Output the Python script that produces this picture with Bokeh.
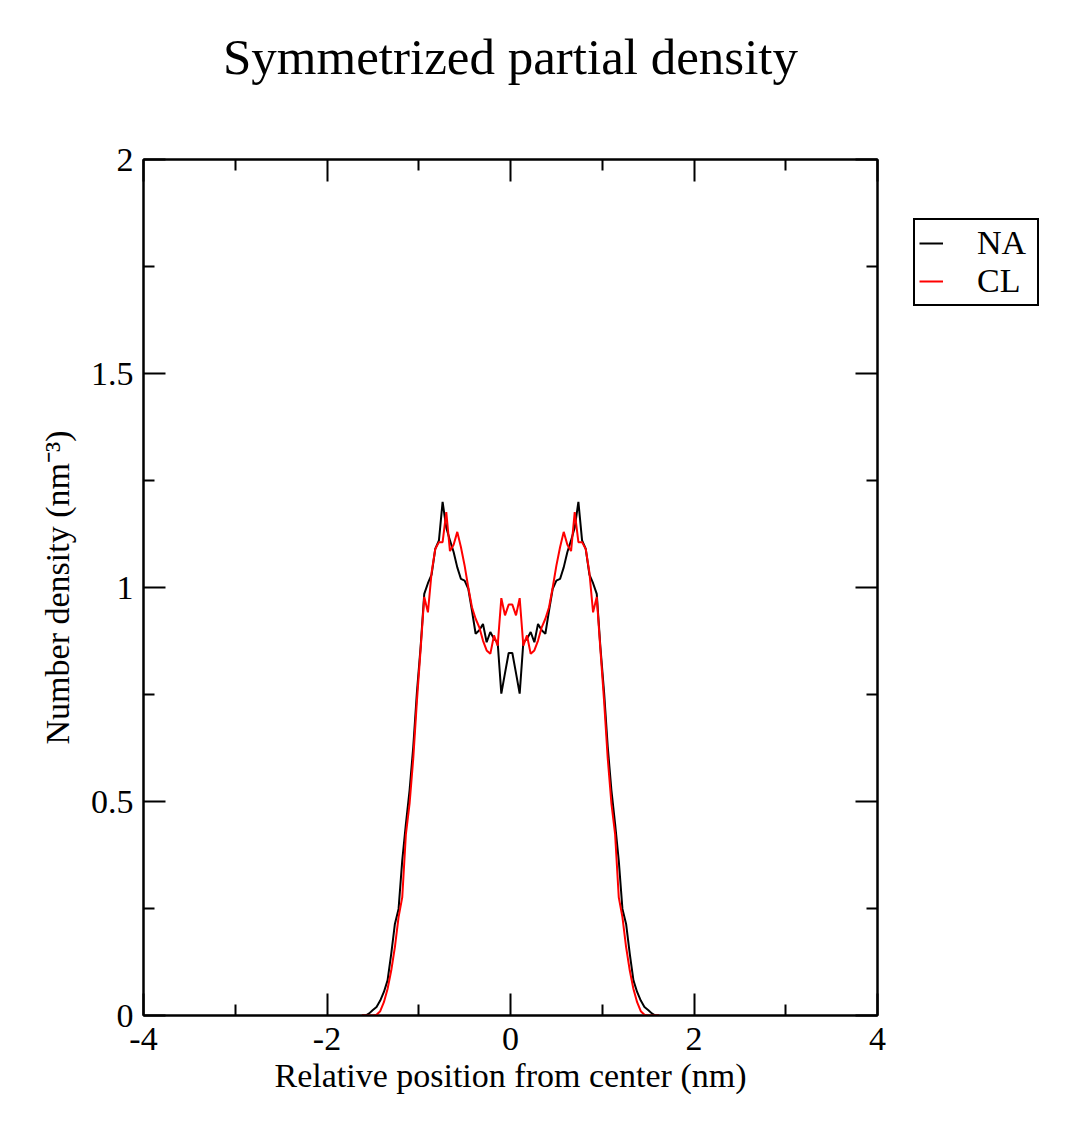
from bokeh.plotting import figure
from bokeh.models import (ColumnDataSource, Legend, LegendItem, LinearAxis, FixedTicker,
                          CustomJSTickFormatter, Title, Range1d)
from bokeh.embed import file_html
from bokeh.resources import INLINE

# ---- data ----
x_nm = [-1.62, -1.58, -1.54, -1.50, -1.46, -1.42, -1.38, -1.34, -1.30, -1.26, -1.22,
        -1.18, -1.14, -1.10, -1.06, -1.02, -0.98, -0.94, -0.90, -0.86, -0.82, -0.78,
        -0.74, -0.70, -0.66, -0.62, -0.58, -0.54, -0.50, -0.46, -0.42, -0.38, -0.34,
        -0.30, -0.26, -0.22, -0.18, -0.14, -0.10, -0.06, -0.02,
        0.02, 0.06, 0.10, 0.14, 0.18, 0.22, 0.26, 0.30, 0.34, 0.38, 0.42, 0.46, 0.50,
        0.54, 0.58, 0.62, 0.66, 0.70, 0.74, 0.78, 0.82, 0.86, 0.90, 0.94, 0.98, 1.02,
        1.06, 1.10, 1.14, 1.18, 1.22, 1.26, 1.30, 1.34, 1.38, 1.42, 1.46, 1.50, 1.54,
        1.58, 1.62]

na_density = [0, 0, 0.005, 0.013, 0.02, 0.035, 0.055, 0.082, 0.144, 0.214, 0.249,
              0.362, 0.448, 0.526, 0.627, 0.755, 0.86, 0.985, 1.01, 1.03, 1.09, 1.11,
              1.20, 1.14, 1.11, 1.083, 1.047, 1.02, 1.016, 0.997, 0.946, 0.892, 0.90,
              0.915, 0.872, 0.896, 0.88, 0.872, 0.752, 0.80, 0.847,
              0.847, 0.80, 0.752, 0.872, 0.88, 0.896, 0.872, 0.915, 0.90, 0.892, 0.946,
              0.997, 1.016, 1.02, 1.047, 1.083, 1.11, 1.14, 1.20, 1.11, 1.09, 1.03, 1.01,
              0.985, 0.86, 0.755, 0.627, 0.526, 0.448, 0.362, 0.249, 0.214, 0.144, 0.082,
              0.055, 0.035, 0.02, 0.013, 0.005, 0, 0]

cl_density = [0, 0, 0, 0, 0.002, 0.01, 0.031, 0.062, 0.105, 0.16, 0.23,
              0.276, 0.424, 0.495, 0.60, 0.735, 0.855, 0.978, 0.942, 1.035, 1.09, 1.106,
              1.106, 1.176, 1.085, 1.10, 1.13, 1.094, 1.051, 1.0, 0.954, 0.927, 0.907,
              0.876, 0.853, 0.845, 0.888, 0.864, 0.975, 0.935, 0.96,
              0.96, 0.935, 0.975, 0.864, 0.888, 0.845, 0.853, 0.876, 0.907, 0.927, 0.954,
              1.0, 1.051, 1.094, 1.13, 1.10, 1.085, 1.176, 1.106, 1.106, 1.09, 1.035,
              0.942, 0.978, 0.855, 0.735, 0.60, 0.495, 0.424, 0.276, 0.23, 0.16, 0.105,
              0.062, 0.031, 0.01, 0.002, 0, 0, 0, 0]

series_names = ["NA", "CL"]
x_major = [-4, -2, 0, 2, 4]
x_minor = [-3, -1, 1, 3]
y_major = [0, 0.5, 1, 1.5, 2]
y_minor = [0.25, 0.75, 1.25, 1.75]
y_tick_labels = {0: "0", 0.5: "0.5", 1: "1", 1.5: "1.5", 2: "2"}
x_tick_labels = {-4: "-4", -2: "-2", 0: "0", 2: "2", 4: "4"}

FONT = "Liberation Serif"

src = ColumnDataSource(dict(x=x_nm, na=na_density, cl=cl_density))

p = figure(frame_width=734, frame_height=856,
           min_border_left=143, min_border_right=180,
           min_border_top=159, min_border_bottom=115,
           x_range=Range1d(-4, 4), y_range=Range1d(0, 2),
           output_backend="svg", toolbar_location=None,
           background_fill_color="white", border_fill_color="white")
p.grid.visible = False
p.outline_line_color = "black"
p.outline_line_width = 2

p.title = Title(text="Symmetrized partial density", text_font=FONT,
                text_font_size="51px", text_font_style="normal", align="center",
                text_color="black", standoff=10,
                padding=dict(left=0, right=0, top=0, bottom=70))

def style_axis(ax):
    ax.axis_line_color = "black"
    ax.axis_line_width = 2
    ax.major_tick_line_width = 2
    ax.minor_tick_line_width = 2
    ax.major_tick_in = 22
    ax.major_tick_out = 0
    ax.minor_tick_in = 11
    ax.minor_tick_out = 0
    ax.major_label_text_font = FONT
    ax.major_label_text_font_size = "34px"
    ax.major_label_text_color = "black"
    ax.axis_label_text_font = FONT
    ax.axis_label_text_font_size = "34px"
    ax.axis_label_text_font_style = "normal"
    ax.axis_label_text_color = "black"

xax = p.xaxis[0]
xax.ticker = FixedTicker(ticks=x_major, minor_ticks=x_minor)
xax.major_label_overrides = x_tick_labels
xax.axis_label = "Relative position from center (nm)"
style_axis(xax)
xax.major_label_standoff = 12
xax.axis_label_standoff = 4

yax = p.yaxis[0]
yax.ticker = FixedTicker(ticks=y_major, minor_ticks=y_minor)
yax.major_label_overrides = y_tick_labels
yax.axis_label = "Number density (nm\u207b\u00b3)"
style_axis(yax)
yax.major_label_standoff = 10
yax.axis_label_standoff = 12

blank = CustomJSTickFormatter(code="return '';")
top = LinearAxis(ticker=FixedTicker(ticks=x_major, minor_ticks=x_minor), formatter=blank)
style_axis(top)
top.major_label_text_font_size = "0px"
top.major_label_standoff = 0
p.add_layout(top, "above")
right = LinearAxis(ticker=FixedTicker(ticks=y_major, minor_ticks=y_minor), formatter=blank)
style_axis(right)
right.major_label_text_font_size = "0px"
right.major_label_standoff = 0
p.add_layout(right, "right")

r_na = p.line("x", "na", source=src, line_color="black", line_width=2)
r_cl = p.line("x", "cl", source=src, line_color="red", line_width=2)

legend = Legend(items=[LegendItem(label=series_names[0], renderers=[r_na]),
                       LegendItem(label=series_names[1], renderers=[r_cl])],
                location=(-202, 709))
legend.label_text_font = FONT
legend.label_text_font_size = "34px"
legend.label_text_color = "black"
legend.glyph_width = 24
legend.label_standoff = 34
legend.label_width = 56
legend.padding = 4
legend.spacing = 0
legend.margin = 0
legend.border_line_color = "black"
legend.border_line_alpha = 1
legend.border_line_width = 2
legend.background_fill_color = "white"
legend.background_fill_alpha = 1
p.add_layout(legend, "right")

open("out.html", "w").write(file_html(p, INLINE))
